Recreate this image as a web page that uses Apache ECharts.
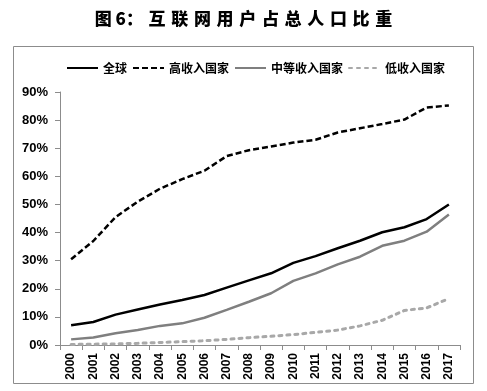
<!DOCTYPE html>
<html><head><meta charset="utf-8">
<script src="https://cdn.jsdelivr.net/npm/echarts@6/dist/echarts.min.js"></script>
<style>html,body{margin:0;padding:0;background:#fff}#c{width:487px;height:391px}</style>
</head><body><div id="c"></div>
<script>
const titleText = '图 6：互联网用户占总人口比重';
const years = ['2000','2001','2002','2003','2004','2005','2006','2007','2008','2009','2010','2011','2012','2013','2014','2015','2016','2017'];
const seriesNames = ['全球','高收入国家','中等收入国家','低收入国家'];
const globalVals = [7.0,8.2,10.8,12.6,14.4,16.0,17.8,20.4,23.0,25.5,29.2,31.6,34.4,37.1,40.1,41.9,44.8,50.0];
const highVals = [30.5,37.0,45.5,51.0,55.6,59.0,62.0,67.2,69.3,70.6,72.0,73.0,75.6,77.1,78.6,80.2,84.5,85.2];
const middleVals = [2.0,2.7,4.2,5.3,6.8,7.7,9.7,12.5,15.4,18.4,22.8,25.5,28.7,31.4,35.3,37.1,40.3,46.4];
const lowVals = [0.2,0.3,0.4,0.6,0.9,1.2,1.5,2.0,2.6,3.1,3.7,4.5,5.3,6.8,8.8,12.3,13.2,16.5];
const yTicks = [0,10,20,30,40,50,60,70,80,90];

const spacedTitle = '图 6：\u2004' + Array.from(titleText.slice(4)).join('\u2004');
const chart = echarts.init(document.getElementById('c'));
const lbl = {fontFamily:'Liberation Sans, Arial', fontWeight:'bold', fontSize:12, color:'#000'};
chart.setOption({
  animation:false,
  title:{text:spacedTitle,left:'center',top:5,textStyle:{fontFamily:'Noto Sans CJK SC',fontWeight:900,fontSize:17,color:'#000'}},
  graphic:[{type:'rect',shape:{x:13.5,y:46.5,width:460,height:337},style:{fill:'none',stroke:'#8c8c8c',lineWidth:1}}],
  legend:{top:57,left:61,itemGap:5,itemWidth:31,itemHeight:12,
    itemStyle:{opacity:0},
    textStyle:{fontFamily:'Noto Sans CJK SC',fontSize:12,fontWeight:'bold',color:'#000'},
    data:seriesNames},
  grid:{left:60,right:27,top:92,bottom:46,containLabel:false},
  xAxis:{type:'category',data:years,boundaryGap:true,
    axisLine:{lineStyle:{color:'#8c8c8c',width:1}},
    axisTick:{show:true,alignWithLabel:false,length:5,lineStyle:{color:'#8c8c8c'}},
    axisLabel:Object.assign({rotate:90,interval:0,margin:8},lbl)},
  yAxis:{type:'value',min:0,max:90,interval:10,
    axisLine:{show:true,lineStyle:{color:'#8c8c8c',width:1}},
    axisTick:{show:true,length:5,lineStyle:{color:'#8c8c8c'}},
    splitLine:{show:false},
    axisLabel:Object.assign({formatter:v=>yTicks.includes(v)?v+'%':'',margin:12},lbl,{fontSize:13})},
  series:[
    {name:seriesNames[0],type:'line',data:globalVals,symbol:'none',lineStyle:{color:'#000',width:2.5},itemStyle:{color:'#000'}},
    {name:seriesNames[1],type:'line',data:highVals,symbol:'none',lineStyle:{color:'#000',width:2.5,type:[6,3]},itemStyle:{color:'#000'}},
    {name:seriesNames[2],type:'line',data:middleVals,symbol:'none',lineStyle:{color:'#7f7f7f',width:2.5},itemStyle:{color:'#7f7f7f'}},
    {name:seriesNames[3],type:'line',data:lowVals,symbol:'none',lineStyle:{color:'#a8a8a8',width:3,type:[3,5],cap:'round'},itemStyle:{color:'#a8a8a8'}}
  ]
});
</script></body></html>
